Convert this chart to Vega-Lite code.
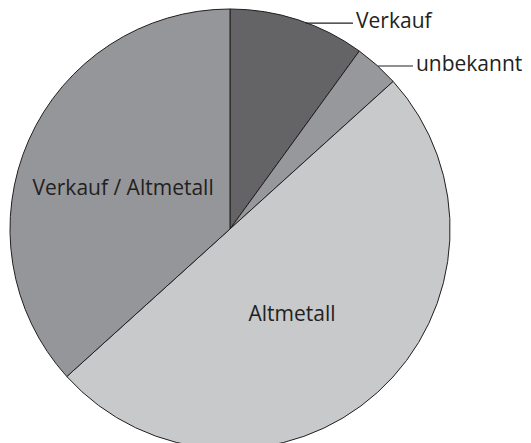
{
  "$schema": "https://vega.github.io/schema/vega-lite/v6.json",
  "width": 531,
  "height": 443,
  "autosize": "none",
  "padding": 0,
  "background": "white",
  "config": {"view": {"stroke": null}},
  "datasets": {
    "slices": [
      {"kategorie": "Verkauf", "anteil": 10.0, "ordnung": 1},
      {"kategorie": "unbekannt", "anteil": 3.3, "ordnung": 2},
      {"kategorie": "Altmetall", "anteil": 50.0, "ordnung": 3},
      {"kategorie": "Verkauf / Altmetall", "anteil": 36.7, "ordnung": 4}
    ],
    "labels": [
      {"text": "Verkauf / Altmetall", "x": -0.486, "y": 0.182, "align": "center"},
      {"text": "Altmetall", "x": 0.282, "y": -0.391, "align": "center"},
      {"text": "Verkauf", "x": 0.573, "y": 0.941, "align": "left"},
      {"text": "unbekannt", "x": 0.845, "y": 0.745, "align": "left"}
    ],
    "leaders": [
      {"gruppe": "Verkauf", "x": 0.345, "y": 0.936},
      {"gruppe": "Verkauf", "x": 0.559, "y": 0.936},
      {"gruppe": "unbekannt", "x": 0.673, "y": 0.741},
      {"gruppe": "unbekannt", "x": 0.832, "y": 0.741}
    ]
  },
  "layer": [
    {
      "data": {"name": "slices"},
      "mark": {"type": "arc", "radius": 220, "stroke": "#231f20", "strokeWidth": 1},
      "encoding": {
        "theta": {"field": "anteil", "type": "quantitative", "stack": true},
        "order": {"field": "ordnung", "type": "quantitative"},
        "x": {"datum": 0, "type": "quantitative", "scale": {"domain": [-1.04545, 1.36818]}, "axis": null},
        "y": {"datum": 0, "type": "quantitative", "scale": {"domain": [-0.97273, 1.04091]}, "axis": null},
        "color": {
          "field": "kategorie",
          "type": "nominal",
          "scale": {
            "domain": ["Verkauf", "unbekannt", "Altmetall", "Verkauf / Altmetall"],
            "range": ["#646466", "#97989b", "#c8c9cb", "#95969a"]
          },
          "legend": null
        }
      }
    },
    {
      "data": {"name": "leaders"},
      "mark": {"type": "line", "color": "#231f20", "strokeWidth": 1.2},
      "encoding": {
        "x": {"field": "x", "type": "quantitative", "scale": {"domain": [-1.04545, 1.36818]}, "axis": null},
        "y": {"field": "y", "type": "quantitative", "scale": {"domain": [-0.97273, 1.04091]}, "axis": null},
        "detail": {"field": "gruppe"}
      }
    },
    {
      "data": {"name": "labels"},
      "transform": [{"filter": "datum.align == 'center'"}],
      "mark": {"type": "text", "font": "Open Sans", "fontSize": 21, "color": "#231f20", "align": "center", "baseline": "middle"},
      "encoding": {
        "x": {"field": "x", "type": "quantitative", "scale": {"domain": [-1.04545, 1.36818]}, "axis": null},
        "y": {"field": "y", "type": "quantitative", "scale": {"domain": [-0.97273, 1.04091]}, "axis": null},
        "text": {"field": "text"}
      }
    },
    {
      "data": {"name": "labels"},
      "transform": [{"filter": "datum.align == 'left'"}],
      "mark": {"type": "text", "font": "Open Sans", "fontSize": 21, "color": "#231f20", "align": "left", "baseline": "middle"},
      "encoding": {
        "x": {"field": "x", "type": "quantitative", "scale": {"domain": [-1.04545, 1.36818]}, "axis": null},
        "y": {"field": "y", "type": "quantitative", "scale": {"domain": [-0.97273, 1.04091]}, "axis": null},
        "text": {"field": "text"}
      }
    }
  ]
}
